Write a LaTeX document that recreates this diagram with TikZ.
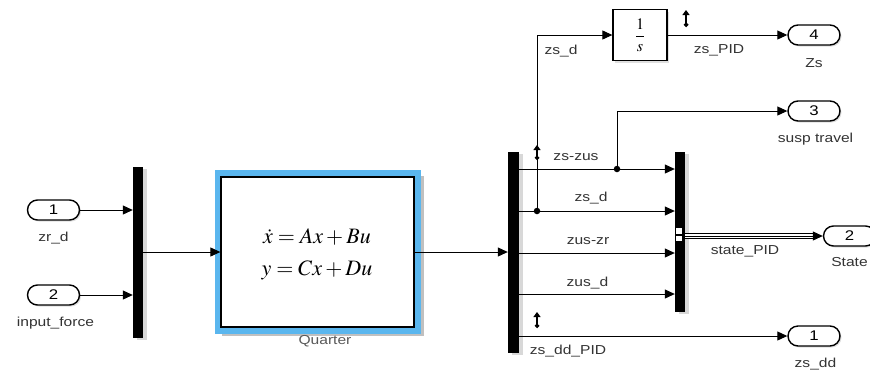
\documentclass[tikz,border=0pt]{standalone}
\usepackage{mathptmx}
\usepackage{fontspec}
\setmainfont{Liberation Sans}[FakeStretch=1.2]
\usetikzlibrary{arrows.meta,shadows,calc}
\definecolor{lblc}{HTML}{333333}
\definecolor{ssblue}{HTML}{5AB6EE}
\begin{document}
\begin{tikzpicture}[x=1pt,y=-1pt,
  lbl/.style={text=lblc, font=\fontsize{13}{14}\selectfont, inner sep=0},
  port/.style={draw, line width=1.4pt, rounded corners=10pt, minimum width=52pt, minimum height=20pt, inner sep=0, fill=white, font=\fontsize{14}{15}\selectfont, drop shadow={shadow xshift=1.5pt,shadow yshift=-1.5pt,opacity=0.25}},
  bar/.style={fill=black, draw=none, minimum width=10pt, inner sep=0, drop shadow={shadow xshift=4pt,shadow yshift=-2pt,opacity=0.3}},
  sig/.style={line width=1pt, -{Triangle[length=10pt,width=9pt]}},
  jdot/.style={circle, fill=black, inner sep=0, minimum size=6.5pt},
  probe/.style={line width=1.2pt, {Triangle[length=5pt,width=7pt]}-{Circle[length=4.5pt]}}
]
\clip (0,0) rectangle (870,373);
\fill[white] (0,0) rectangle (870,373);

% inports
\node[port] (in1) at (53.5,210) {1};
\node[lbl] (lin1) at (53.5,238) {zr\_d};
\node[port] (in2) at (53.5,295) {2};
\node[lbl] (lin2) at (55.5,323) {input\_force};

% mux 1
\node[bar, minimum height=171pt] (mux1) at (138,252.5) {};
\draw[sig] (in1.east) -- (in1.east -| mux1.west);
\draw[sig] (in2.east) -- (in2.east -| mux1.west);

% state-space block
\fill[black!70, opacity=0.35] (222,176) rectangle (424,336);
\draw[ssblue, line width=6.5pt] (218,173.5) rectangle (417.5,330.3);
\node[draw, fill=white, line width=1.3pt, minimum width=193pt, minimum height=150pt, inner sep=0] (ss) at (317.5,252) {};
\node[font=\fontsize{22}{24}\selectfont] (eq1) at (317,237) {$\dot{x} = Ax + Bu$};
\node[font=\fontsize{22}{24}\selectfont] (eq2) at (317,270) {$y = Cx + Du$};
\node[lbl, text=black!65] (lss) at (325,341) {Quarter};
\draw[sig] (mux1.east |- ss.west) -- (ss.west);

% demux
\node[bar, minimum width=11pt, minimum height=201pt] (demux) at (513.5,252.5) {};
\draw[sig] (ss.east) -- (ss.east -| demux.west);

% mux 3
\node[bar, minimum height=160pt] (mux3) at (680,232) {};

\coordinate (r1) at (600,169);
\coordinate (r2) at (600,211);
\coordinate (r3) at (600,253);
\coordinate (r4) at (600,294);
\draw[sig] (demux.east |- r1) -- (mux3.west |- r1);
\draw[sig] (demux.east |- r2) -- (mux3.west |- r2);
\draw[sig] (demux.east |- r3) -- (mux3.west |- r3);
\draw[sig] (demux.east |- r4) -- (mux3.west |- r4);

\node[lbl] (l1) at (576,157) {zs-zus};
\node[lbl] (l2) at (591,198.5) {zs\_d};
\node[lbl] (l3) at (588,241.5) {zus-zr};
\node[lbl] (l4) at (587.5,283) {zus\_d};

% junctions
\node[jdot] (j1) at (537,211) {};
\node[jdot] (j2) at (617,169) {};

% integrator
\node[draw, line width=1.3pt, fill=white, minimum width=54pt, minimum height=51pt, inner sep=0, drop shadow={shadow xshift=2pt,shadow yshift=-2pt,opacity=0.25}] (int) at (640,35) {};
\node[font=\fontsize{16}{17}\selectfont] (frac) at (640,35) {$\displaystyle\frac{1}{s}$};

% outports
\node[port] (o4) at (814,35) {4};
\node[lbl] (lo4) at (814,63) {Zs};
\node[port] (o3) at (814,111) {3};
\node[lbl] (lo3) at (815.5,139) {susp travel};
\node[port] (o2) at (849.5,236) {2};
\node[lbl] (lo2) at (849.5,262) {State};
\node[port] (o1) at (814,336) {1};
\node[lbl] (lo1) at (815.5,364) {zs\_dd};

\draw[sig] (j1.center) -- (j1.center |- int.west) -- (int.west);
\node[lbl] (lzsd) at (561,51) {zs\_d};
\draw[sig] (int.east) -- (o4.west);
\node[lbl] (lzspid) at (719,50) {zs\_PID};
\draw[sig] (j2.center) |- (o3.west);
\draw[sig] (demux.east |- o1.west) -- (o1.west);
\node[lbl] (lzsdd) at (568,351) {zs\_dd\_PID};

% bus
\coordinate (bend) at ([xshift=-9pt]o2.west);
\draw[line width=6.5pt] (mux3.east |- o2.west) -- (bend);
\draw[white, line width=4.3pt] (mux3.east |- o2.west) -- (bend);
\draw[sig, line width=1pt] (mux3.east |- o2.west) -- (o2.west);
\fill[white] (676,228) rectangle (682,233.5);
\fill[white] (676,235.5) rectangle (682,241);
\node[lbl] (lstate) at (745,251) {state\_PID};

% probes
\draw[probe] (537,145) -- (537,160);
\draw[probe] (686,10) -- (686,27);
\draw[probe] (537,312) -- (537,328);
\end{tikzpicture}
\end{document}
